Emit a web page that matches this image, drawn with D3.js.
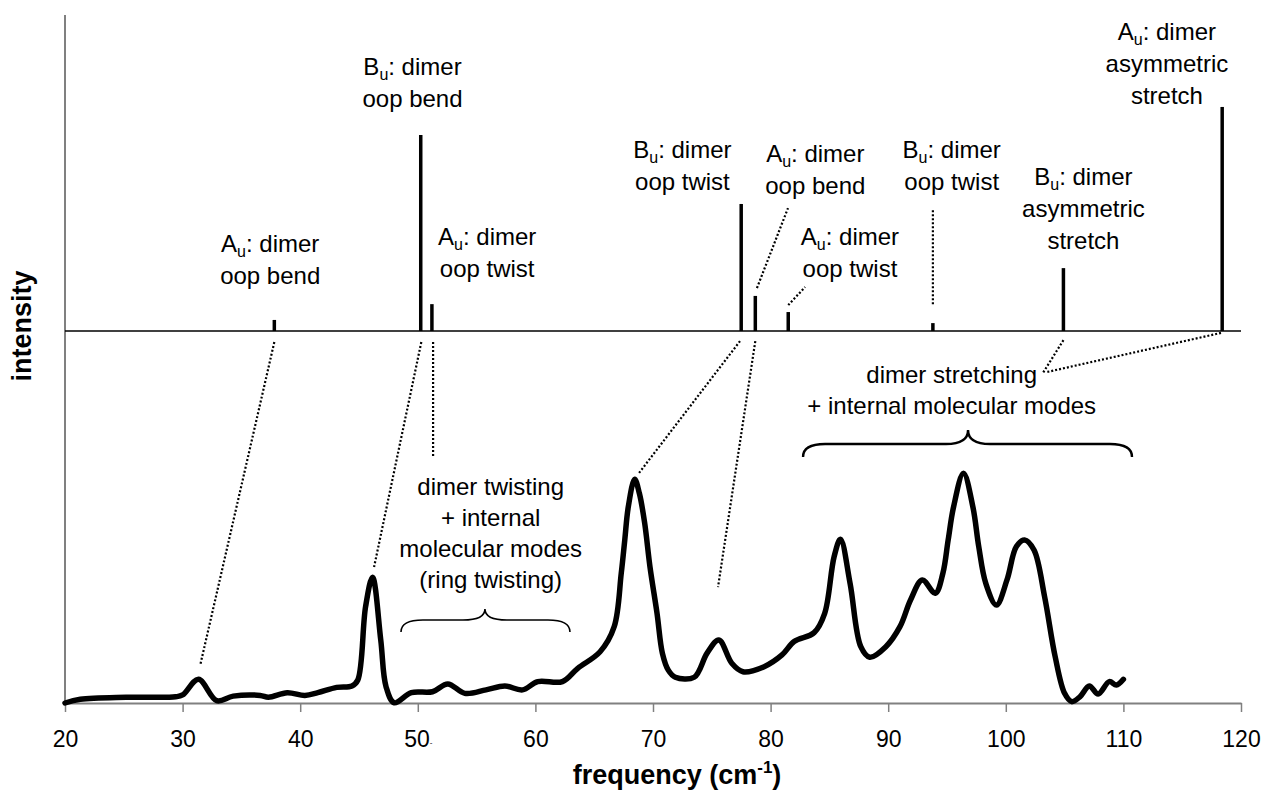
<!DOCTYPE html>
<html>
<head>
<meta charset="utf-8">
<script src="https://cdn.jsdelivr.net/npm/d3@7"></script>
<style>
	body { margin: 0; background: #fff; }
	svg { display: block; }
</style>
</head>
<body>
<div id="chart"></div>
<script>
// spectrum (measured), frequency in cm-1 and relative intensity
var specFreq = [20.0, 21.3, 25.2, 29.4, 30.0, 31.35, 32.9, 34.3, 36.6, 37.3, 38.9, 40.4, 41.5, 43.1, 44.4, 44.9,
	45.56, 46.15, 46.85, 47.3, 48.0, 49.45, 51.25, 52.55, 54.0, 55.8, 57.4, 58.9, 60.2, 62.3, 63.6, 65.5,
	66.7, 67.3, 67.6, 67.9, 68.44, 68.84, 69.29, 69.74, 70.34, 70.8, 71.3, 71.9, 73.5, 74.6, 75.6, 76.7,
	77.65, 79.45, 80.97, 82.0, 83.7, 84.6, 85.4, 85.94, 86.76, 87.67, 88.43, 89.8, 91.0, 91.9, 92.9, 94.0,
	94.65, 95.1, 95.56, 96.4, 97.2, 97.7, 98.3, 99.2, 100.1, 100.9, 101.6, 102.4, 103.3, 104.2, 105.0, 105.6,
	106.3, 107.1, 107.85, 108.8, 109.4, 110.0];
var specInt = [0.0, 0.016, 0.025, 0.027, 0.035, 0.103, 0.010, 0.030, 0.033, 0.025, 0.045, 0.033, 0.045, 0.068, 0.074, 0.100,
	0.419, 0.547, 0.274, 0.071, 0.001, 0.045, 0.049, 0.083, 0.042, 0.057, 0.074, 0.057, 0.093, 0.093, 0.151, 0.223,
	0.332, 0.564, 0.709, 0.853, 0.973, 0.912, 0.783, 0.593, 0.391, 0.216, 0.143, 0.112, 0.112, 0.217, 0.274, 0.173,
	0.136, 0.158, 0.209, 0.267, 0.306, 0.390, 0.636, 0.712, 0.520, 0.245, 0.199, 0.245, 0.332, 0.448, 0.535, 0.477,
	0.564, 0.709, 0.853, 0.999, 0.853, 0.680, 0.520, 0.426, 0.535, 0.680, 0.709, 0.665, 0.462, 0.201, 0.042, 0.006,
	0.027, 0.074, 0.039, 0.093, 0.078, 0.103];

// calculated modes (sticks)
var stickFreq = [37.8, 50.25, 51.2, 77.5, 78.7, 81.5, 93.8, 104.9, 118.4];
var stickInt = [3.5, 62.0, 8.5, 40.2, 11.1, 6.0, 2.5, 19.9, 70.9];
var stickSym = ["A", "B", "A", "B", "A", "A", "B", "B", "A"];
var stickDesc = [["oop bend"], ["oop bend"], ["oop twist"], ["oop twist"], ["oop bend"], ["oop twist"],
	["oop twist"], ["asymmetric", "stretch"], ["asymmetric", "stretch"]];

// label anchors: centre frequency, first baseline in stick units
var labelFreq = [37.45, 49.55, 55.9, 72.5, 83.8, 86.75, 95.4, 106.6, 113.7];
var labelInt = [25.0, 81.0, 27.2, 54.7, 53.5, 27.2, 54.7, 46.2, 92.1];

var xTicks = [20, 30, 40, 50, 60, 70, 80, 90, 100, 110, 120];

// leader lines: stick (freq, stick units) -> spectrum (freq, intensity)
var lowerLeaders = [
	[37.8, -3.5, 31.5, 0.165],
	[50.3, -3.5, 46.28, 0.591],
	[51.3, -3.5, 51.3, 1.065],
	[77.4, -3.2, 68.81, 1.0],
	[78.7, -3.2, 75.53, 0.504],
	[104.9, -2.9, 103.16, 1.435],
	[118.3, -0.6, 103.5, 1.439]
];
// stick top -> label (both in stick units)
var upperLeaders = [
	[81.5, 8.2, 82.93, 13.9],
	[78.84, 13.6, 81.48, 38.9],
	[93.8, 8.5, 93.8, 38.6]
];

// group annotations
var groupText = [
	["dimer twisting", "+ internal", "molecular modes", "(ring twisting)"],
	["dimer stretching", "+ internal molecular modes"]
];
var groupFreq = [56.2, 95.4];
var groupInt = [0.904, 1.391];
// braces: left, middle, right freq; end, line, tip intensity; stroke
var braces = [
	[48.57, 55.71, 62.94, 0.309, 0.361, 0.409, 1.6],
	[82.76, 96.79, 110.73, 1.070, 1.126, 1.187, 2.4]
];

var font = "'Liberation Sans', Arial, Helvetica, sans-serif";
var width = 1265, height = 791;

var x = d3.scaleLinear().domain([20, 120]).range([65, 1241]);
var ySpec = d3.scaleLinear().domain([0, 1]).range([703, 473]);
var yStick = d3.scaleLinear().domain([0, 100]).range([331, 15]);

var svg = d3.select("#chart").append("svg")
	.attr("width", width)
	.attr("height", height)
	.style("font-family", font);

// y axis line (no ticks)
svg.append("line")
	.attr("x1", x(20)).attr("x2", x(20))
	.attr("y1", yStick(100)).attr("y2", ySpec(0))
	.attr("stroke", "#808080")
	.attr("stroke-width", 2);

// x axis
var xAxis = d3.axisBottom(x)
	.tickValues(xTicks)
	.tickSize(9)
	.tickSizeOuter(0)
	.tickPadding(19)
	.tickFormat(d3.format("d"));

var gx = svg.append("g")
	.attr("transform", "translate(0," + ySpec(0) + ")")
	.call(xAxis);
gx.select(".domain").attr("stroke", "#808080").attr("stroke-width", 2);
gx.selectAll(".tick line").attr("stroke", "#808080").attr("stroke-width", 1.5);
gx.selectAll(".tick text")
	.attr("fill", "#000")
	.style("font-size", "23px")
	.style("font-family", font);
// stray mark after the 50 label in the original
gx.selectAll(".tick text").filter(function(d) { return d === 50; })
	.append("tspan").attr("dy", "-0.35em").style("font-size", "8px").text("-");

// stick baseline
svg.append("line")
	.attr("x1", x(20)).attr("x2", x(120))
	.attr("y1", yStick(0)).attr("y2", yStick(0))
	.attr("stroke", "#000")
	.attr("stroke-width", 1.5);

// sticks
svg.selectAll(".stick")
	.data(stickFreq)
  .enter().append("line")
	.attr("class", "stick")
	.attr("x1", function(d) { return x(d); })
	.attr("x2", function(d) { return x(d); })
	.attr("y1", yStick(0))
	.attr("y2", function(d, i) { return yStick(stickInt[i]); })
	.attr("stroke", "#000")
	.attr("stroke-width", 3.5);

// stick labels
var lineH = 32;
svg.selectAll(".stick-label")
	.data(stickFreq)
  .enter().append("text")
	.attr("class", "stick-label")
	.attr("text-anchor", "middle")
	.style("font-size", "24px")
	.each(function(d, i) {
		var t = d3.select(this);
		var cx = x(labelFreq[i]), cy = yStick(labelInt[i]);
		t.attr("x", cx).attr("y", cy);
		t.append("tspan").text(stickSym[i]);
		t.append("tspan").attr("dy", 5).style("font-size", "16px").text("u");
		t.append("tspan").attr("dy", -5).text(": dimer");
		stickDesc[i].forEach(function(line, k) {
			t.append("tspan").attr("x", cx).attr("y", cy + (k + 1) * lineH).text(line);
		});
	});

// dotted leader lines
svg.selectAll(".leader-low")
	.data(lowerLeaders)
  .enter().append("line")
	.attr("class", "leader-low")
	.attr("x1", function(d) { return x(d[0]); })
	.attr("y1", function(d) { return yStick(d[1]); })
	.attr("x2", function(d) { return x(d[2]); })
	.attr("y2", function(d) { return ySpec(d[3]); })
	.attr("stroke", "#000")
	.attr("stroke-width", 2.2)
	.attr("stroke-dasharray", "2,2");

svg.selectAll(".leader-up")
	.data(upperLeaders)
  .enter().append("line")
	.attr("class", "leader-up")
	.attr("x1", function(d) { return x(d[0]); })
	.attr("y1", function(d) { return yStick(d[1]); })
	.attr("x2", function(d) { return x(d[2]); })
	.attr("y2", function(d) { return yStick(d[3]); })
	.attr("stroke", "#000")
	.attr("stroke-width", 2.2)
	.attr("stroke-dasharray", "2,2");

// spectrum
var line = d3.line()
	.x(function(d, i) { return x(specFreq[i]); })
	.y(function(d, i) { return ySpec(specInt[i]); })
	.curve(d3.curveCatmullRom.alpha(0.5));

svg.append("path")
	.datum(specFreq)
	.attr("d", line)
	.attr("fill", "none")
	.attr("stroke", "#000")
	.attr("stroke-width", 5.5)
	.attr("stroke-linejoin", "round")
	.attr("stroke-linecap", "round");

// group labels
svg.selectAll(".group-label")
	.data(groupText)
  .enter().append("text")
	.attr("class", "group-label")
	.attr("text-anchor", "middle")
	.style("font-size", "24px")
	.each(function(lines, i) {
		var t = d3.select(this);
		var cx = x(groupFreq[i]), cy = ySpec(groupInt[i]);
		lines.forEach(function(s, k) {
			t.append("tspan").attr("x", cx).attr("y", cy + k * 31).text(s);
		});
	});

// braces
svg.selectAll(".brace")
	.data(braces)
  .enter().append("path")
	.attr("class", "brace")
	.attr("d", function(b) {
		var x1 = x(b[0]), xm = x(b[1]), x2 = x(b[2]);
		var ye = ySpec(b[3]), yl = ySpec(b[4]), yt = ySpec(b[5]);
		var r = 22;
		return "M" + x1 + "," + ye +
			"Q" + x1 + "," + yl + " " + (x1 + r) + "," + yl +
			"L" + (xm - r) + "," + yl +
			"Q" + xm + "," + yl + " " + xm + "," + yt +
			"Q" + xm + "," + yl + " " + (xm + r) + "," + yl +
			"L" + (x2 - r) + "," + yl +
			"Q" + x2 + "," + yl + " " + x2 + "," + ye;
	})
	.attr("fill", "none")
	.attr("stroke", "#000")
	.attr("stroke-width", function(b) { return b[6]; });

// axis titles
var xt = svg.append("text")
	.attr("x", 677)
	.attr("y", 784)
	.attr("text-anchor", "middle")
	.style("font-size", "27px")
	.style("font-weight", "bold");
xt.append("tspan").text("frequency (cm");
xt.append("tspan").attr("dy", -11).style("font-size", "17px").text("-1");
xt.append("tspan").attr("dy", 11).text(")");

svg.append("text")
	.attr("transform", "translate(31,326) rotate(-90)")
	.attr("text-anchor", "middle")
	.style("font-size", "27px")
	.style("font-weight", "bold")
	.text("intensity");
</script>
</body>
</html>
